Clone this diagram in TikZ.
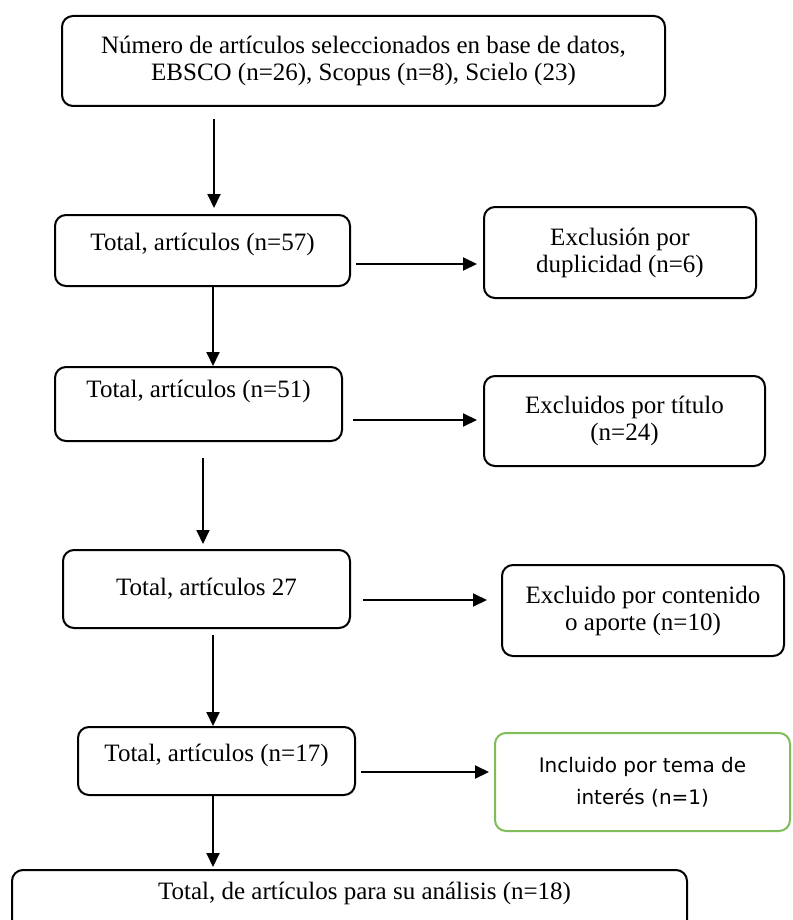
\documentclass[tikz,border=0pt]{standalone}
\usepackage{fontspec}
\setmainfont{Liberation Serif}
\newfontfamily\incfont{DejaVu Sans}
\usepackage{tikz}
\usetikzlibrary{arrows.meta}

\definecolor{incgreen}{RGB}{128,188,88}

\begin{document}
\begin{tikzpicture}[x=1pt, y=-1pt, line width=2pt,
    >={Triangle[length=14pt,width=13pt]},
    every node/.style={font=\fontsize{25}{27}\selectfont},
    stagebox/.style={draw, rounded corners=11pt, align=center},
    lift/.style={text height=17pt, text depth=#1}]
    \useasboundingbox (0,0) rectangle (792,920);
    \clip (0,0) rectangle (792,920);
    \node[stagebox, minimum width=603pt, minimum height=90pt] (src) at (363.5,61) {N\'umero de art\'iculos seleccionados en base de datos,\\EBSCO (n=26), Scopus (n=8), Scielo (23)};
    \node[stagebox, lift=17pt, minimum width=295pt, minimum height=71pt] (n57) at (202.5,250.5) {Total, art\'iculos (n=57)};
    \node[stagebox, minimum width=272pt, minimum height=91pt] (dup) at (620,252.5) {Exclusi\'on por\\duplicidad (n=6)};
    \node[stagebox, lift=30pt, minimum width=287pt, minimum height=74pt] (n51) at (198.5,404) {Total, art\'iculos (n=51)};
    \node[stagebox, lift=5pt, minimum width=287pt, minimum height=78pt] (n27) at (206.5,589) {Total, art\'iculos 27};
    \node[stagebox, minimum width=281pt, minimum height=90pt] (tit) at (624.5,421) {Excluidos por t\'itulo\\(n=24)};
    \node[stagebox, minimum width=282pt, minimum height=91pt] (cont) at (643,610.5) {Excluido por contenido\\o aporte (n=10)};
    \node[stagebox, lift=16pt, minimum width=277pt, minimum height=68pt] (n17) at (216.5,761) {Total, art\'iculos (n=17)};
    \node[stagebox, draw=incgreen, font=\incfont\fontsize{20}{32}\selectfont, minimum width=295pt, minimum height=98pt] (inc) at (642.5,782) {Incluido por tema de\\inter\'es (n=1)};
    \node[stagebox, lift=23pt, minimum width=675pt, minimum height=65pt] (fin) at (349.5,902.5) {\hspace*{30pt}Total, de art\'iculos para su an\'alisis (n=18)};
    % flujo principal
    \draw[->, shorten <=12pt, shorten >=6pt] (src.south -| 214,0) -- (n57.north -| 214,0);
    \draw[->] (n57.south -| 213,0) -- (n51.north -| 213,0);
    \draw[->, shorten <=16pt, shorten >=5pt] (n51.south -| 203,0) -- (n27.north -| 203,0);
    \draw[->, shorten <=6pt] (n27.south -| 213,0) -- (n17.north -| 213,0);
    \draw[->, shorten >=2pt] (n17.south -| 213,0) -- (fin.north -| 213,0);
    % exclusiones
    \draw[->, shorten <=5pt, shorten >=6pt] (n57.east |- 0,264) -- (dup.west |- 0,264);
    \draw[->, shorten <=10pt, shorten >=6pt] (n51.east |- 0,420) -- (tit.west |- 0,420);
    \draw[->, shorten <=12pt, shorten >=14pt] (n27.east |- 0,600) -- (cont.west |- 0,600);
    \draw[->, shorten <=5pt, shorten >=5pt] (n17.east |- 0,772) -- (inc.west |- 0,772);
  \end{tikzpicture}
\end{document}
